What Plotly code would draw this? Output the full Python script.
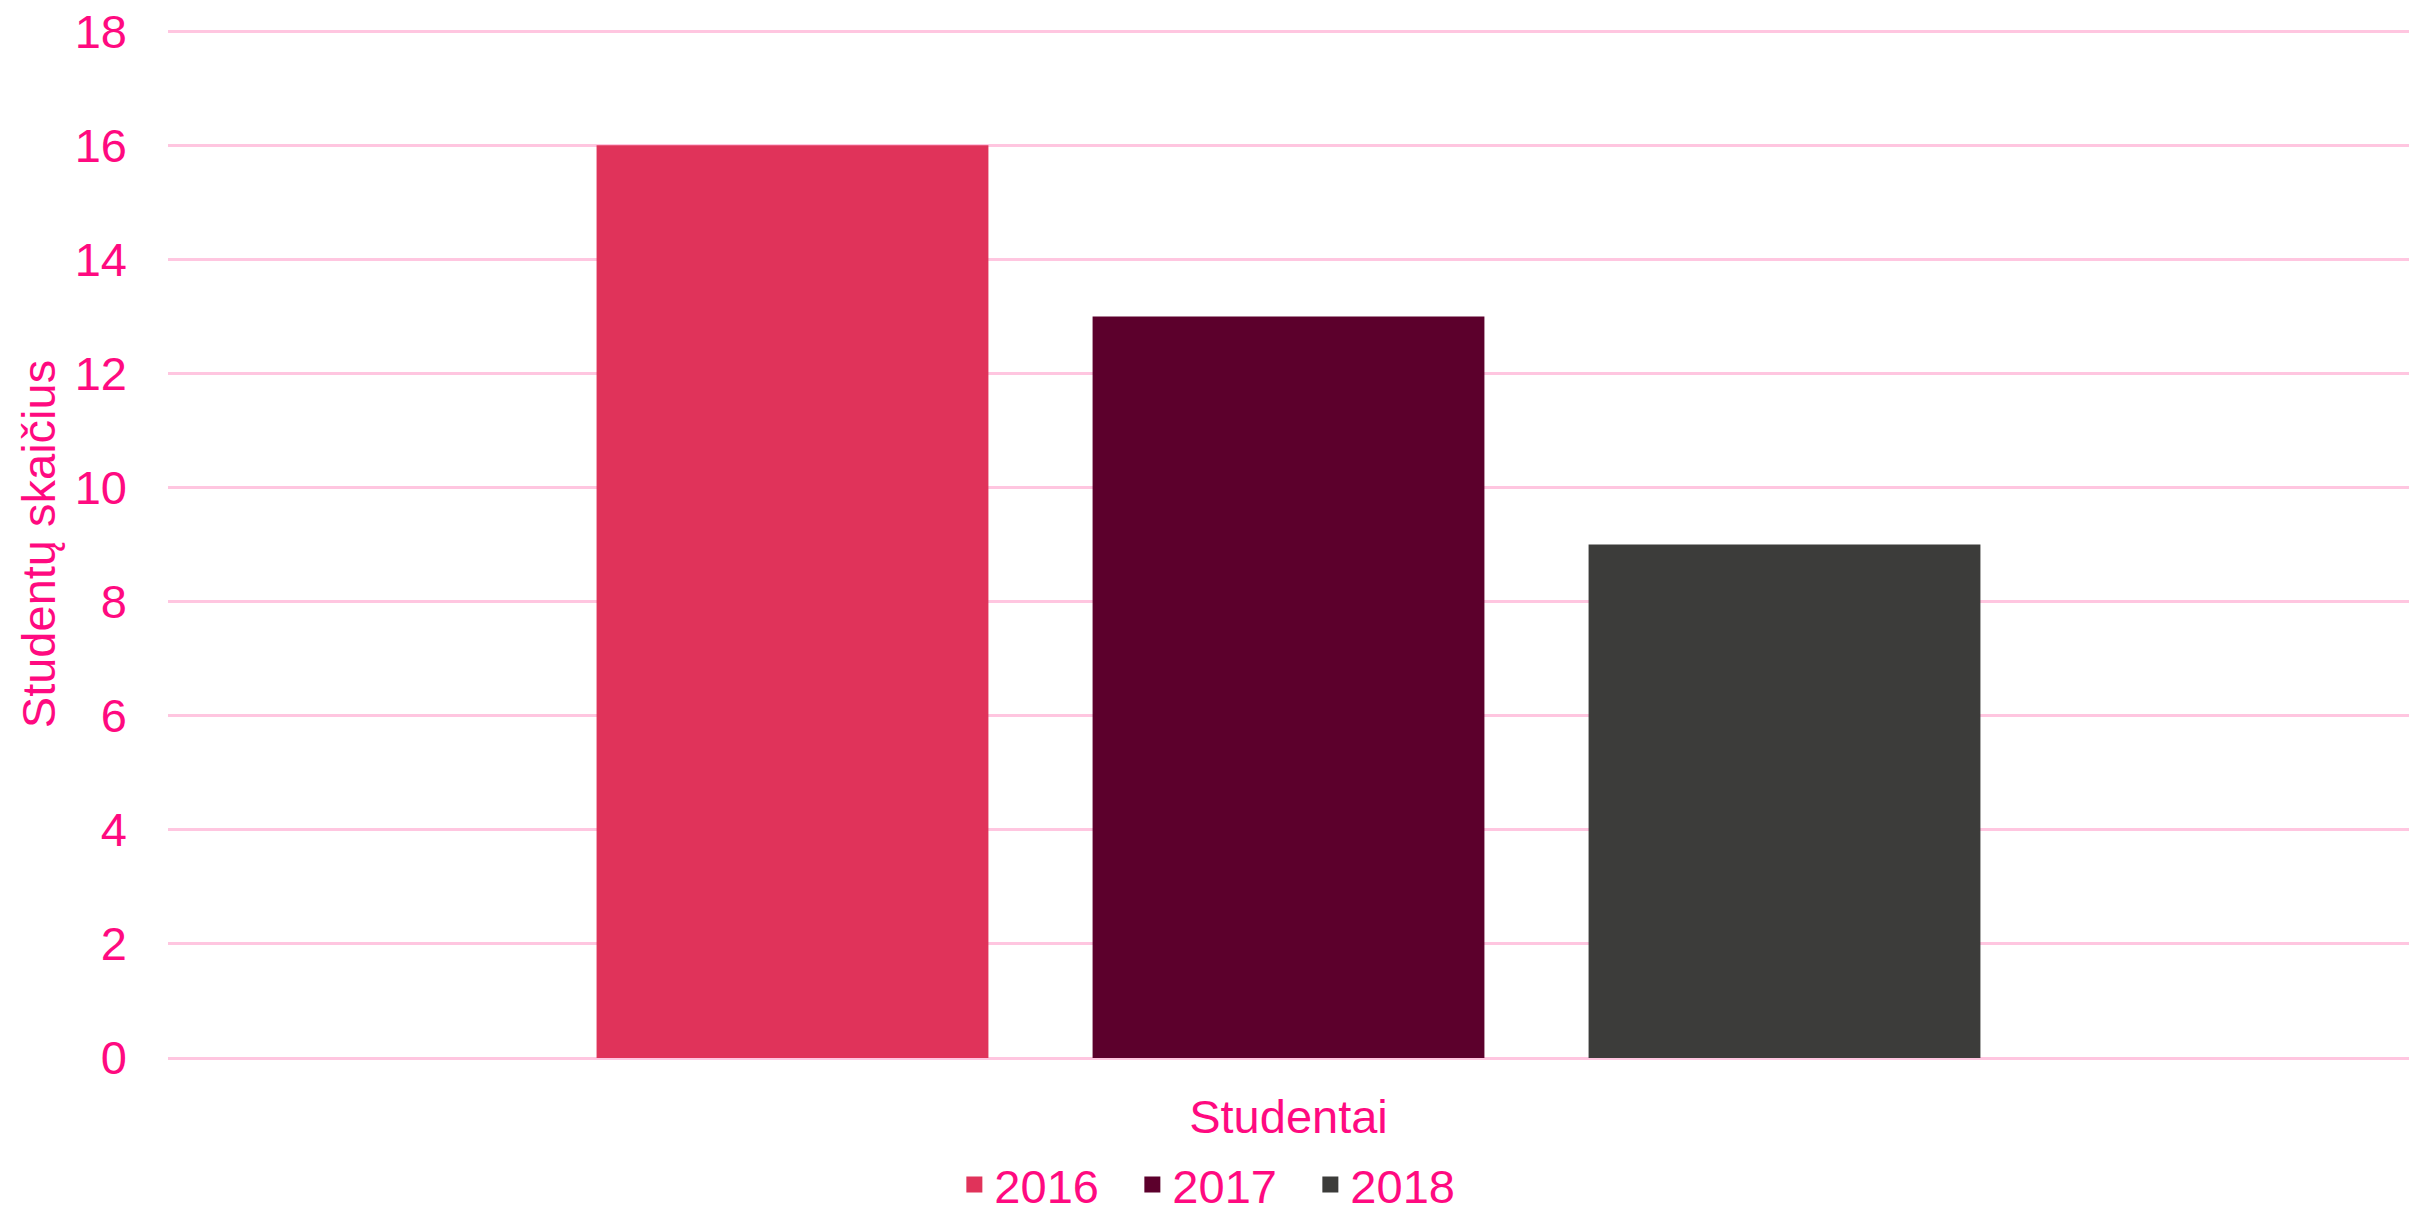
import plotly.graph_objects as go

# Data
category = ["Studentai"]
years = ["2016", "2017", "2018"]
students = [16, 13, 9]
colors = ["#E0335A", "#5C002C", "#3C3C3A"]

PINK = "#FF0A80"
GRID = "#FFC6E0"
FONT = "Liberation Sans, Arial, sans-serif"

fig = go.Figure()

for year, value, color in zip(years, students, colors):
    # the bar itself
    fig.add_trace(go.Bar(
        x=category,
        y=[value],
        name=year,
        marker_color=color,
        marker_line_width=0,
        showlegend=False,
    ))
    # square legend entry (bigger than the default bar icon)
    fig.add_trace(go.Scatter(
        x=[None],
        y=[None],
        name=year,
        mode="markers",
        marker=dict(symbol="square", size=16, color=color),
        showlegend=True,
    ))

fig.update_layout(
    width=2409,
    height=1214,
    barmode="group",
    bargap=0.336,
    bargroupgap=0.21,
    plot_bgcolor="white",
    paper_bgcolor="white",
    font=dict(family=FONT, size=47, color=PINK),
    margin=dict(l=168, r=0, t=30, b=156),
    legend=dict(
        orientation="h",
        xref="container",
        yref="container",
        x=0.507,
        xanchor="center",
        y=0.024,
        yanchor="middle",
        entrywidth=133,
        font=dict(size=47, color=PINK),
    ),
)

fig.update_yaxes(
    range=[0, 18.02],  # tiny headroom so the 18 gridline is drawn
    tickvals=list(range(0, 19, 2)),
    showgrid=True,
    gridcolor=GRID,
    gridwidth=2.5,
    zeroline=True,
    zerolinecolor=GRID,
    zerolinewidth=2.5,
    showline=False,
    ticks="",
    ticklabelstandoff=40,
    tickfont=dict(size=47, color=PINK),
    title=dict(text="Studentų skaičius", standoff=4, font=dict(size=47, color=PINK)),
)

fig.update_xaxes(
    showgrid=False,
    showline=False,
    ticks="",
    ticklabelstandoff=27,
    tickfont=dict(size=47, color=PINK),
)

# drop the default 8px body margin so the figure fills the window exactly
fig.write_html(
    "out.html",
    config={"displayModeBar": False},
    post_script="document.body.style.margin='0';",
)
